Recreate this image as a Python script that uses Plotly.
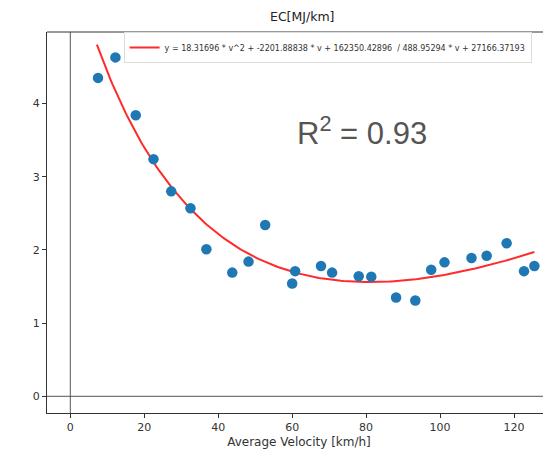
import numpy as np
import plotly.graph_objects as go

velocity = [7.5, 12.2, 17.7, 22.5, 27.3, 32.5, 36.8, 43.8, 48.2, 52.7, 60.0, 60.8,
            67.8, 70.8, 78.0, 81.4, 88.1, 93.3, 97.6, 101.2, 108.5, 112.6, 118.0,
            122.7, 125.5]
energy = [4.35, 4.63, 3.84, 3.24, 2.80, 2.57, 2.01, 1.69, 1.84, 2.34, 1.54, 1.71,
          1.78, 1.69, 1.64, 1.635, 1.35, 1.31, 1.73, 1.83, 1.89, 1.92, 2.09,
          1.71, 1.78]

# fit coefficients as printed in the legend
a, b, c = 18.31696, -2201.88838, 162350.42896
d, e = 488.95294, 27166.37193
r2_text = "R<sup>2</sup> = 0.93"
fit_label = "y = 18.31696 * v^2 + -2201.88838 * v + 162350.42896  / 488.95294 * v + 27166.37193"

v_fit = np.linspace(min(velocity) - 0.3, max(velocity), 200)
ec_fit = (a * v_fit**2 + b * v_fit + c) / (d * v_fit + e)

fig = go.Figure()
fig.add_trace(go.Scatter(x=v_fit, y=ec_fit, mode="lines", line=dict(color="#ff2a2a", width=2),
                         name=fit_label))
fig.add_trace(go.Scatter(x=velocity, y=energy, mode="markers", showlegend=False,
                         marker=dict(color="#1f77b4", size=10.5)))

# reference lines at zero
fig.add_hline(y=0, line=dict(color="#555555", width=1))
fig.add_vline(x=0, line=dict(color="#555555", width=1))
# top frame line (right side is cut off in the picture)
fig.add_shape(type="line", xref="paper", yref="paper", x0=0, x1=1, y0=1, y1=1,
              line=dict(color="#333333", width=1.2))

fig.add_annotation(x=78.9, y=3.63, text=r2_text, showarrow=False,
                   font=dict(family="Liberation Sans", size=31, color="#555555"))

axis_common = dict(showgrid=False, zeroline=False, showline=True, linecolor="#333333",
                   linewidth=1.2, ticks="outside", ticklen=4, tickcolor="#333333",
                   tickfont=dict(size=11, color="#333333"))

# page body has an 8px offset, margins compensate for it
fig.update_layout(
    width=551, height=458,
    margin=dict(l=39, r=8, t=24, b=53, autoexpand=False),
    plot_bgcolor="white", paper_bgcolor="white",
    font=dict(family="DejaVu Sans", color="#333333"),
    title=dict(text="EC[MJ/km]", x=0.534, xanchor="center", y=0.982, yanchor="middle",
               font=dict(size=12.5, color="#222222")),
    xaxis=dict(range=[-6.3, 130.0], tickvals=[0, 20, 40, 60, 80, 100, 120],
               title=dict(text="Average Velocity [km/h]", font=dict(size=12), standoff=4),
               **axis_common),
    yaxis=dict(range=[-0.228, 4.977], tickvals=[0, 1, 2, 3, 4], **axis_common),
    legend=dict(x=0.152, y=1.0, xanchor="left", yanchor="top", bgcolor="white",
                bordercolor="#dddddd", borderwidth=1, font=dict(size=8.0, color="#333333"),
                itemwidth=30),
    showlegend=True,
)

fig.write_html("out.html")
